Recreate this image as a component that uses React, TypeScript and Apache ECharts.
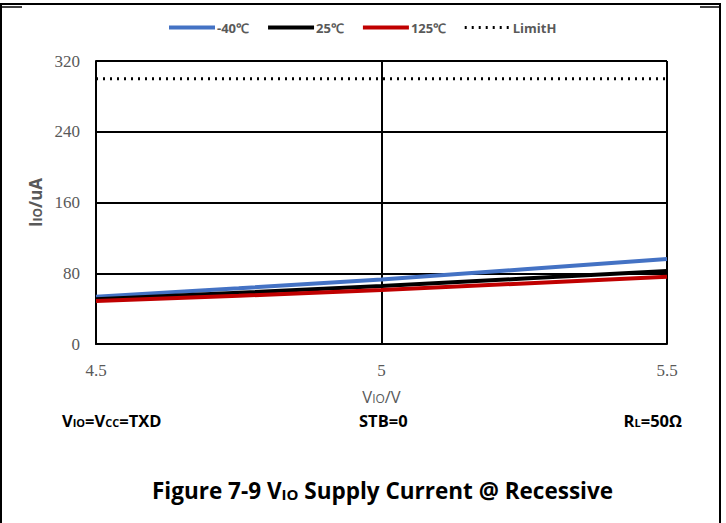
import React, { useEffect, useRef } from "react";
import * as echarts from "echarts";

const xValues = [4.5, 4.75, 5, 5.25, 5.5];
const seriesNames = ["-40℃", "25℃", "125℃", "LimitH"];
const blueValues = [53.5, 63, 73, 84.5, 96];
const blackValues = [50.5, 58, 65.5, 74, 82.5];
const redValues = [48.5, 54.5, 61, 68.5, 76];
const limitValues = [300, 300, 300, 300, 300];
const colors = ["#4472C4", "#000000", "#C00000", "#000000"];

const zip = (ys: number[]) => xValues.map((x, i) => [x, ys[i]]);

export default function App() {
  const ref = useRef<HTMLDivElement>(null);
  useEffect(() => {
    document.body.style.margin = "0";
    const chart = echarts.init(ref.current!, null, { renderer: "svg" });
    const lab = "'Open Sans', Lato, sans-serif";
    chart.setOption({
      animation: false,
      backgroundColor: "#ffffff",
      legend: {
        top: 21,
        left: 167,
        padding: 0,
        itemWidth: 46,
        itemHeight: 10,
        itemGap: 17,
        itemStyle: { opacity: 0 },
        textStyle: { fontFamily: lab, fontWeight: "bold", fontSize: 13, color: "#595959", padding: [9, 0, 0, -3] },
        data: [
          { name: seriesNames[0], lineStyle: { width: 4 } },
          { name: seriesNames[1], lineStyle: { width: 4 } },
          { name: seriesNames[2], lineStyle: { width: 4 } },
          { name: seriesNames[3], lineStyle: { width: 3 } },
        ],
      },
      grid: { left: 96, right: 59, top: 61, bottom: 179, containLabel: false },
      xAxis: {
        type: "value",
        min: 4.5,
        max: 5.5,
        interval: 0.5,
        axisLine: { show: true, lineStyle: { color: "#000", width: 2 } },
        axisTick: { show: false },
        splitLine: { show: true, lineStyle: { color: "#000", width: 2 } },
        axisLabel: {
          margin: 18,
          fontFamily: "'Liberation Serif', serif",
          fontSize: 17,
          color: "#595959",
          formatter: (v: number) => String(v),
        },
        name: "{a|V}{s|IO}{a|/V}",
        nameLocation: "middle",
        nameGap: 44,
        nameTextStyle: {
          rich: {
            a: { fontFamily: lab, fontSize: 16.5, color: "#595959" },
            s: { fontFamily: lab, fontSize: 12, color: "#595959", padding: [4, 0, 0, 0] },
          },
        },
      },
      yAxis: {
        type: "value",
        min: 0,
        max: 320,
        interval: 80,
        axisLine: { show: true, lineStyle: { color: "#000", width: 2 } },
        axisTick: { show: false },
        splitLine: { show: true, lineStyle: { color: "#000", width: 2 } },
        axisLabel: {
          margin: 16,
          fontFamily: "'Liberation Serif', serif",
          fontSize: 17,
          color: "#595959",
        },
        name: "{a|I}{s|IO}{a|/uA}",
        nameLocation: "middle",
        nameGap: 51,
        nameTextStyle: {
          rich: {
            a: { fontFamily: lab, fontSize: 17, fontWeight: "bold", color: "#595959" },
            s: { fontFamily: lab, fontSize: 12, fontWeight: "bold", color: "#595959", padding: [5, 0, 0, 0] },
          },
        },
      },
      series: [
        { name: seriesNames[0], type: "line", data: zip(blueValues), symbol: "none", lineStyle: { color: colors[0], width: 4 }, itemStyle: { color: colors[0] } },
        { name: seriesNames[1], type: "line", data: zip(blackValues), symbol: "none", lineStyle: { color: colors[1], width: 4 }, itemStyle: { color: colors[1] } },
        { name: seriesNames[2], type: "line", data: zip(redValues), symbol: "none", lineStyle: { color: colors[2], width: 4 }, itemStyle: { color: colors[2] } },
        { name: seriesNames[3], type: "line", data: zip(limitValues), symbol: "none", lineStyle: { color: colors[3], width: 3, type: [2, 5] }, itemStyle: { color: colors[3] } },
      ],
      graphic: [
        { type: "polyline", shape: { points: [[1, 523], [1, 4], [720, 4], [720, 523]] }, style: { stroke: "#000", lineWidth: 2, fill: null }, silent: true },
        { type: "line", shape: { x1: 1, y1: 7, x2: 22, y2: 7 }, style: { stroke: "#000", lineWidth: 1.5 } },
        { type: "line", shape: { x1: 700, y1: 7, x2: 720, y2: 7 }, style: { stroke: "#000", lineWidth: 1.5 } },
        {
          type: "text", left: 62, top: 412,
          style: {
            text: "{a|V}{s|IO}{a|=V}{s|CC}{a|=TXD}",
            rich: {
              a: { fontFamily: lab, fontSize: 16.5, fontWeight: "bold", fill: "#000" },
              s: { fontFamily: lab, fontSize: 11, fontWeight: "bold", fill: "#000", padding: [4, 0, 0, 0] },
            },
          },
        },
        {
          type: "text", left: 359, top: 412,
          style: { text: "STB=0", fontFamily: lab, fontSize: 16.5, fontWeight: "bold", fill: "#000" },
        },
        {
          type: "text", right: 44, top: 412,
          style: {
            text: "{a|R}{s|L}{a|=50Ω}",
            rich: {
              a: { fontFamily: lab, fontSize: 16.5, fontWeight: "bold", fill: "#000" },
              s: { fontFamily: lab, fontSize: 11, fontWeight: "bold", fill: "#000", padding: [4, 0, 0, 0] },
            },
          },
        },
        {
          type: "text", left: 152, top: 479,
          style: {
            text: "{a|Figure 7-9 V}{s|IO}{a| Supply Current @ Recessive}",
            rich: {
              a: { fontFamily: lab, fontSize: 22.5, fontWeight: "bold", fill: "#000" },
              s: { fontFamily: lab, fontSize: 15, fontWeight: "bold", fill: "#000", padding: [6, 0, 0, 0] },
            },
          },
        },
      ],
    });
    return () => chart.dispose();
  }, []);
  return <div ref={ref} style={{ width: 726, height: 523 }} />;
}
